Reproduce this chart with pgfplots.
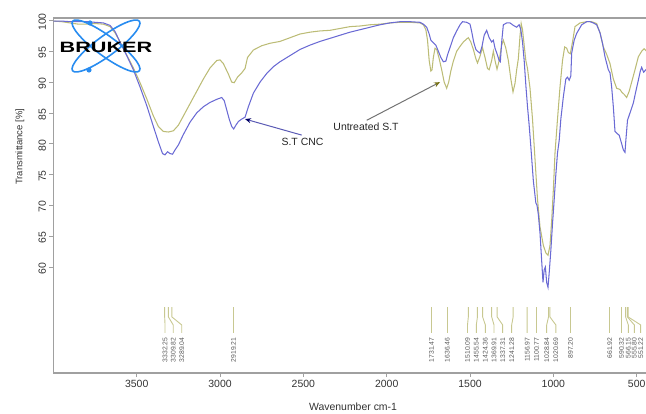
\documentclass[border=0pt]{standalone}
\usepackage{fontspec}
\setmainfont{Liberation Sans}
\usepackage{pgfplots}
\pgfplotsset{compat=1.18}
\usetikzlibrary{arrows.meta}
\definecolor{olivec}{RGB}{188,188,118}
\definecolor{bluec}{RGB}{106,106,212}
\definecolor{peakc}{RGB}{200,200,145}
\definecolor{logoblue}{RGB}{40,140,240}
\definecolor{axisgray}{RGB}{160,160,160}
\newcommand{\pk}[3]{%
 \draw[peakc, line width=0.9bp] (axis cs:#1,53.5) -- (axis cs:#1,51.9) -- (axis cs:#2,50.6) -- (axis cs:#2,49.3);
 \node[rotate=90, anchor=east, inner sep=0.3bp, font=\fontsize{6.8}{7}\selectfont, text=black!65] at (axis cs:#2,48.6) {#3};
}
\begin{document}
\begin{tikzpicture}
\path[use as bounding box] (-53.4bp,-41bp) rectangle (592.6bp,373bp);
\begin{axis}[
  scale only axis, width=596.6bp, height=355bp,
  xmin=420, xmax=4000, x dir=reverse,
  ymin=42.8, ymax=100.4,
  xtick={500,1000,...,3500}, ytick={60,65,...,100},
  tick pos=left, tick align=outside, major tick length=4bp,
  axis line style={axisgray, line width=1.3bp},
  every tick/.style={axisgray, line width=0.8bp},
  tick label style={font=\fontsize{10.5}{12}\selectfont, text=black!80},
  /pgf/number format/assume math mode=true,
  /pgf/number format/1000 sep={},
  yticklabel style={rotate=90, anchor=south, xshift=-1.5bp},
  clip=false,
]
\addplot[olivec, line width=1.05bp] table {
4000 99.9
3950 99.8
3900 99.6
3850 99.4
3800 99.4
3750 99.5
3700 99.4
3660 99.0
3630 98.0
3600 96.5
3560 94.4
3520 92.3
3480 89.9
3440 87.3
3400 84.5
3370 82.8
3340 82.0
3310 81.9
3280 82.1
3250 83.0
3220 84.5
3180 86.5
3140 88.5
3100 90.5
3060 92.3
3020 93.5
3000 93.6
2980 93.0
2950 91.3
2930 90.0
2915 89.9
2895 90.8
2870 91.5
2850 92.2
2835 94.0
2800 95.2
2750 95.9
2700 96.3
2640 96.6
2580 97.2
2520 97.8
2460 98.1
2400 98.3
2340 98.4
2280 98.7
2220 99.0
2160 99.1
2100 99.3
2040 99.4
1980 99.6
1920 99.7
1860 99.7
1800 99.6
1780 99.3
1765 98.5
1755 96.8
1745 93.5
1735 91.8
1728 92.0
1720 94.0
1710 95.5
1700 95.3
1685 93.8
1670 92.0
1655 90.0
1640 89.0
1628 90.0
1615 91.8
1600 93.4
1580 95.0
1560 95.8
1540 96.5
1520 97.0
1510 97.2
1495 96.5
1480 95.3
1465 93.8
1455 93.1
1440 94.2
1425 95.6
1410 94.0
1395 92.2
1385 92.0
1370 93.5
1360 95.0
1350 93.5
1338 92.1
1325 93.5
1310 96.0
1300 96.8
1285 95.5
1270 93.5
1255 90.5
1242 88.4
1230 89.8
1220 92.0
1210 93.8
1200 97.5
1193 99.5
1185 98.5
1175 96.0
1165 93.5
1155 92.2
1140 89.0
1125 84.0
1110 77.5
1095 71.0
1080 66.5
1060 63.5
1045 62.3
1032 61.9
1020 63.5
1010 67.5
1000 72.5
990 78.5
975 84.0
960 89.2
945 93.5
932 95.7
920 95.5
910 94.8
898 94.6
885 96.5
870 99.0
840 99.6
800 99.8
770 99.8
740 99.5
720 98.0
700 95.7
680 94.5
660 93.0
640 90.5
620 89.0
600 88.8
590 88.4
575 88.0
560 87.5
545 88.5
530 90.0
510 92.0
490 94.1
470 95.0
455 95.4
440 95.0
420 94.8
};
\addplot[bluec, line width=1.05bp] table {
4000 99.9
3950 99.9
3900 99.8
3850 99.8
3800 99.8
3750 99.7
3700 99.6
3660 99.2
3630 98.2
3600 96.5
3560 94.3
3520 92.0
3480 89.2
3440 86.2
3400 82.8
3370 80.3
3345 78.4
3330 78.2
3315 78.7
3300 78.4
3285 78.3
3270 79.0
3250 79.8
3220 81.5
3180 83.5
3140 85.0
3100 86.0
3060 86.7
3020 87.2
2990 87.5
2975 87.0
2960 85.5
2945 84.0
2930 82.8
2918 82.4
2905 83.0
2890 83.6
2870 84.0
2850 84.3
2830 86.0
2800 88.2
2760 90.0
2720 91.4
2680 92.5
2640 93.3
2580 94.3
2520 95.3
2460 96.0
2400 96.6
2340 97.1
2280 97.6
2220 98.1
2160 98.5
2100 98.9
2040 99.3
1980 99.6
1920 99.8
1860 99.8
1800 99.7
1780 99.4
1760 98.9
1745 97.8
1735 96.8
1720 96.4
1705 96.0
1690 95.0
1675 94.0
1660 93.3
1645 93.4
1635 94.4
1620 95.6
1600 97.2
1580 98.3
1560 99.3
1545 99.8
1520 99.7
1500 99.4
1490 98.2
1478 96.5
1465 95.3
1455 95.0
1440 94.7
1428 95.8
1415 97.6
1400 98.4
1385 97.2
1370 96.5
1360 96.8
1350 95.5
1338 94.6
1325 93.5
1318 93.3
1310 96.5
1300 99.3
1280 99.6
1260 99.6
1240 99.2
1220 98.9
1205 99.3
1195 98.5
1185 96.5
1175 93.5
1165 89.5
1155 86.0
1145 83.0
1135 79.5
1120 74.0
1105 70.4
1098 70.0
1090 68.5
1080 65.5
1070 61.0
1062 57.5
1055 59.5
1048 60.0
1040 57.5
1032 56.7
1025 59.0
1015 62.7
1005 67.0
995 70.9
985 75.0
975 78.5
965 80.5
955 84.0
940 87.6
925 90.5
915 90.8
905 90.3
895 91.0
890 94.7
875 96.8
860 97.9
830 99.3
800 99.8
780 99.8
760 99.6
740 99.3
720 98.0
705 96.3
690 94.1
670 92.0
660 91.5
650 89.2
640 86.0
630 82.0
615 81.6
605 81.4
590 80.0
580 79.0
570 78.6
565 80.5
555 83.8
540 85.0
520 86.6
505 88.5
490 90.3
478 91.8
470 92.4
458 91.6
445 92.0
420 92.5
};
% annotations
\draw[bluec!85!black, line width=1bp, -{Stealth[length=6bp,width=5bp,color=blue!40!black]}] (axis cs:2510,81.4) -- (axis cs:2850,84.0);
\node[font=\fontsize{10.5}{12}\selectfont, text=black!85] at (axis cs:2505,80.3) {S.T CNC};
\draw[black!55, line width=1bp, -{Stealth[length=6bp,width=5bp,color=olive!80!black]}] (axis cs:2120,83.8) -- (axis cs:1680,90.0);
\node[font=\fontsize{10.5}{12}\selectfont, text=black!85] at (axis cs:2124,82.7) {Untreated S.T};
% peak markers
\pk{3332.25}{3330}{3332.25}
\pk{3309.82}{3281}{3309.82}
\pk{3289.04}{3230}{3289.04}
\pk{2919.21}{2919.21}{2919.21}
\pk{1731.47}{1731.47}{1731.47}
\pk{1636.46}{1636.46}{1636.46}
\pk{1510.09}{1515}{1510.09}
\pk{1455.54}{1462}{1455.54}
\pk{1424.36}{1408}{1424.36}
\pk{1369.91}{1356}{1369.91}
\pk{1337.31}{1304}{1337.31}
\pk{1241.28}{1250}{1241.28}
\pk{1156.97}{1157}{1156.97}
\pk{1100.77}{1100.77}{1100.77}
\pk{1028.84}{1040}{1028.84}
\pk{1020.69}{985}{1020.69}
\pk{897.20}{897.2}{897.20}
\pk{661.92}{661.92}{661.92}
\pk{590.32}{590.32}{590.32}
\pk{566.15}{550}{566.15}
\pk{555.80}{514}{555.80}
\pk{551.22}{476}{551.22}
% axis labels
\node[anchor=north, font=\fontsize{10.5}{12}\selectfont, text=black!80] at ([yshift=-26bp]axis cs:2202,42.8) {Wavenumber cm-1};
\node[rotate=90, font=\fontsize{9.5}{11}\selectfont, text=black!80] at ([xshift=-33.4bp]axis cs:4000,79.5) {Transmittance [\%]};
\end{axis}
% Bruker logo
\begin{scope}[shift={(52.6bp,327bp)}]
\draw[logoblue, line width=1.6bp, rotate=36.5] (0,0) ellipse (41.6bp and 10bp);
\draw[logoblue, line width=1.6bp, rotate=-36.5] (0,0) ellipse (41.6bp and 10bp);
\fill[logoblue] (-16bp,23bp) circle (2.6bp);
\fill[logoblue] (-17bp,-24bp) circle (2.6bp);
\node[font=\bfseries\fontsize{15}{15}\selectfont, xscale=1.45, inner sep=0pt] at (0,-1.5bp) {BRUKER};
\end{scope}
\end{tikzpicture}
\end{document}
